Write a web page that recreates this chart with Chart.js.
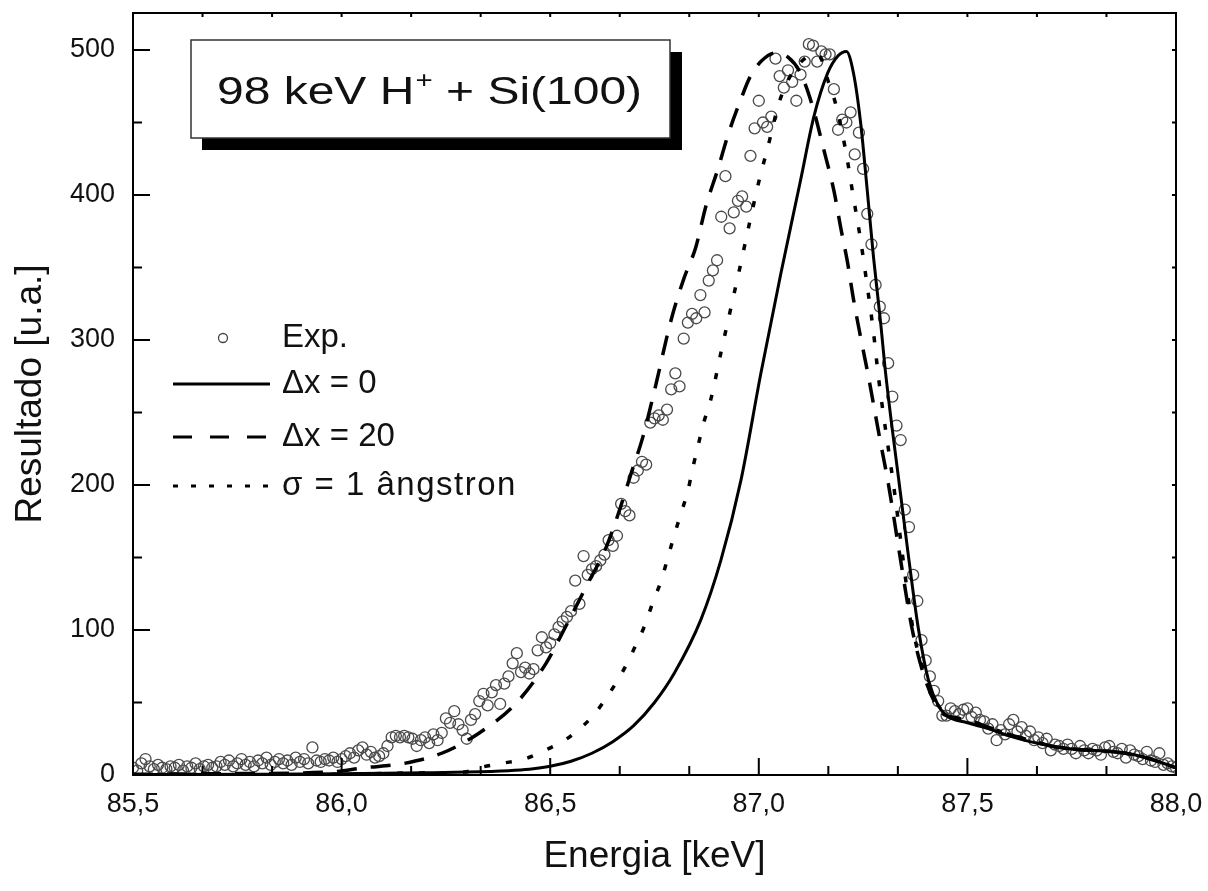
<!DOCTYPE html>
<html>
<head>
<meta charset="utf-8">
<script src="https://cdn.jsdelivr.net/npm/chart.js@4.4.1/dist/chart.umd.min.js"></script>
<style>
  html, body { margin: 0; padding: 0; background: #fff; }
  #grafico { display: block; }
</style>
</head>
<body>
<canvas id="grafico" width="1208" height="891"></canvas>
<script>
// espectro medido (energia em keV, resultado em u.a.)
const expX = [
  85.50,85.51,85.52,85.53,85.54,85.55,85.56,85.57,85.58,85.59,
  85.60,85.61,85.62,85.63,85.64,85.65,85.66,85.67,85.68,85.69,
  85.70,85.71,85.72,85.73,85.74,85.75,85.76,85.77,85.78,85.79,
  85.80,85.81,85.82,85.83,85.84,85.85,85.86,85.87,85.88,85.89,
  85.90,85.91,85.92,85.93,85.94,85.95,85.96,85.97,85.98,85.99,
  86.00,86.01,86.02,86.03,86.04,86.05,86.06,86.07,86.08,86.09,
  86.10,86.11,86.12,86.13,86.14,86.15,86.16,86.17,86.18,86.19,
  86.20,86.21,86.22,86.23,86.24,86.25,86.26,86.27,86.28,86.29,
  86.30,86.31,86.32,86.33,86.34,86.35,86.36,86.37,86.38,86.39,
  86.40,86.41,86.42,86.43,86.44,86.45,86.46,86.47,86.48,86.49,
  86.50,86.51,86.52,86.53,86.54,86.55,86.56,86.57,86.58,86.59,
  86.60,86.61,86.62,86.63,86.64,86.65,86.66,86.67,86.68,86.69,
  86.70,86.71,86.72,86.73,86.74,86.75,86.76,86.77,86.78,86.79,
  86.80,86.81,86.82,86.83,86.84,86.85,86.86,86.87,86.88,86.89,
  86.90,86.91,86.92,86.93,86.94,86.95,86.96,86.97,86.98,86.99,
  87.00,87.01,87.02,87.03,87.04,87.05,87.06,87.07,87.08,87.09,
  87.10,87.11,87.12,87.13,87.14,87.15,87.16,87.17,87.18,87.19,
  87.20,87.21,87.22,87.23,87.24,87.25,87.26,87.27,87.28,87.29,
  87.30,87.31,87.32,87.33,87.34,87.35,87.36,87.37,87.38,87.39,
  87.40,87.41,87.42,87.43,87.44,87.45,87.46,87.47,87.48,87.49,
  87.50,87.51,87.52,87.53,87.54,87.55,87.56,87.57,87.58,87.59,
  87.60,87.61,87.62,87.63,87.64,87.65,87.66,87.67,87.68,87.69,
  87.70,87.71,87.72,87.73,87.74,87.75,87.76,87.77,87.78,87.79,
  87.80,87.81,87.82,87.83,87.84,87.85,87.86,87.87,87.88,87.89,
  87.90,87.91,87.92,87.93,87.94,87.95,87.96,87.97,87.98,87.99,
  88.00
];
const expY = [
  5,3,8,11,6,4,7,5,4,6,
  5,7,3,6,5,8,4,6,7,5,
  6,9,7,10,6,8,11,7,9,6,
  10,8,12,7,9,11,8,10,7,12,
  9,11,8,19,10,9,11,10,12,9,
  11,13,15,12,17,19,14,16,12,13,
  15,20,26,27,26,27,26,25,20,24,
  26,22,28,24,29,39,36,44,35,31,
  25,38,42,51,56,48,57,62,49,63,
  68,77,84,71,74,70,73,86,95,88,
  91,97,102,106,109,113,134,118,151,138,
  142,144,148,152,162,158,165,187,182,179,
  205,210,216,214,243,246,248,245,252,266,
  277,268,301,312,318,315,331,319,341,348,
  355,385,413,377,388,396,399,392,427,446,
  465,450,447,454,494,482,474,486,478,465,
  483,492,504,503,492,499,497,497,473,445,
  452,450,457,428,443,418,387,366,338,323,
  315,284,261,241,231,183,171,138,120,93,
  79,68,58,51,41,41,46,44,42,45,
  46,40,43,38,37,32,35,24,31,28,
  35,38,30,33,27,30,24,26,22,25,
  17,21,20,18,21,18,15,20,17,15,
  18,17,14,19,20,16,15,18,12,17,
  14,13,11,16,10,9,15,7,8,6,
  5
];

// simulação Δx = 0
const dx0X = [85.5, 85.8, 86.0, 86.2, 86.3, 86.4, 86.45, 86.5, 86.55, 86.6, 86.65, 86.7, 86.75, 86.797,
  86.861, 86.909, 86.957, 87.005, 87.053, 87.1, 87.132, 87.165, 87.19, 87.21, 87.227, 87.244, 87.26,
  87.275, 87.292, 87.304, 87.337, 87.36, 87.383, 87.407, 87.43, 87.45, 87.5, 87.55, 87.6, 87.65, 87.7,
  87.75, 87.8, 87.85, 87.9, 87.95, 88.0];
const dx0Y = [0.3, 0.5, 0.8, 1.5, 2, 3, 4, 6, 9.5, 15, 23, 34, 50, 70,
  107, 148, 203, 277, 346, 410, 454, 484, 496, 499, 484, 450, 403,
  357, 312, 277, 200, 148, 100, 65, 48, 41, 36, 32, 27, 23, 20,
  18, 17, 16, 14, 10, 5];

// simulação Δx = 20
const dx20X = [85.5, 85.75, 85.97, 86.055, 86.15, 86.24, 86.33, 86.42, 86.49, 86.54, 86.59, 86.634, 86.663,
  86.694, 86.722, 86.749, 86.79, 86.82, 86.849, 86.873, 86.902, 86.928, 86.957, 86.98, 87.005, 87.04,
  87.07, 87.1, 87.129, 87.156, 87.18, 87.196, 87.213, 87.227, 87.244, 87.26, 87.29, 87.311, 87.34, 87.368,
  87.4, 87.435, 87.46, 87.5, 87.55, 87.6, 87.65, 87.7, 87.75, 87.8, 87.85, 87.9, 87.95, 88.0];
const dx20Y = [0.5, 1, 2, 5, 8, 15, 29, 50, 77, 104, 132, 157, 180,
  208, 233, 264, 314, 342, 364, 392, 418, 443, 466, 482, 492, 498,
  495, 484, 461, 431, 403, 378, 353, 328, 302, 279, 232, 200, 148, 100,
  65, 44, 40, 38, 33, 28, 24, 20, 18, 17, 16, 14, 10, 5];

// simulação σ = 1 ângstron
const sigX = [85.5, 86.0, 86.2, 86.294, 86.33, 86.383, 86.438, 86.495, 86.545, 86.603, 86.641, 86.675,
  86.701, 86.725, 86.746, 86.766, 86.782, 86.797, 86.813, 86.83, 86.842, 86.856, 86.868, 86.885, 86.909,
  86.933, 86.957, 86.981, 87.005, 87.02, 87.048, 87.07, 87.09, 87.11, 87.13, 87.145, 87.168, 87.184,
  87.208, 87.227, 87.244, 87.26, 87.275, 87.287, 87.323, 87.37, 87.4, 87.43, 87.46, 87.5,
  87.55, 87.6, 87.65, 87.7, 87.75, 87.8, 87.85, 87.9, 87.95, 88.0];
const sigY = [0, 0.5, 1.5, 2, 5, 8, 11, 18, 26, 41, 56, 72,
  87, 102, 119, 134, 150, 165, 180, 196, 212, 229, 243, 259, 291,
  322, 353, 385, 415, 431, 463, 479, 488, 494, 497, 496, 477, 463,
  431, 398, 369, 337, 305, 274, 200, 100, 68, 48, 41, 38,
  33, 28, 24, 20, 18, 17, 16, 14, 10, 5];

const xTicks = [85.5, 86.0, 86.5, 87.0, 87.5, 88.0];
const yTicks = [0, 100, 200, 300, 400, 500];
const nomes = ['Exp.', 'Δx = 0', 'Δx = 20', 'σ = 1 ângstron'];

const fonte = '"Liberation Sans", Arial, Helvetica, sans-serif';

function pares(xs, ys) {
  return xs.map((x, i) => ({ x: x, y: ys[i] }));
}

// moldura com marcas internas, caixa do título e legenda
const moldura = {
  id: 'moldura',
  afterDraw(chart) {
    const { ctx, chartArea: a, scales: { x, y } } = chart;
    ctx.save();
    ctx.strokeStyle = '#000';
    ctx.lineWidth = 2;
    ctx.strokeRect(a.left, a.top, a.right - a.left, a.bottom - a.top);

    ctx.beginPath();
    // eixo x: maiores a cada 0,5 e duas menores entre elas
    for (let i = 0; i <= 15; i++) {
      const px = x.getPixelForValue(xTicks[0] + i / 6);
      const len = i % 3 === 0 ? 17 : 9;
      ctx.moveTo(px, a.bottom);
      ctx.lineTo(px, a.bottom - len);
      ctx.moveTo(px, a.top);
      ctx.lineTo(px, a.top + 4);
    }
    // eixo y: maiores a cada 100, menores a cada 50
    for (let v = 0; v <= 500; v += 50) {
      const py = y.getPixelForValue(v);
      const len = v % 100 === 0 ? 17 : 9;
      ctx.moveTo(a.left, py);
      ctx.lineTo(a.left + len, py);
      ctx.moveTo(a.right, py);
      ctx.lineTo(a.right - 4, py);
    }
    ctx.stroke();

    // caixa do título com sombra
    ctx.fillStyle = '#000';
    ctx.fillRect(202, 52, 480, 98);
    ctx.fillStyle = '#fff';
    ctx.fillRect(191, 40, 479, 98);
    ctx.strokeStyle = '#333';
    ctx.lineWidth = 1.5;
    ctx.strokeRect(191, 40, 479, 98);

    ctx.save();
    ctx.translate(217, 104);
    ctx.scale(1.23, 1);
    ctx.fillStyle = '#111';
    ctx.textBaseline = 'alphabetic';
    ctx.textAlign = 'left';
    let tx = 0;
    ctx.font = '39px ' + fonte;
    ctx.fillText('98 keV H', tx, 0);
    tx += ctx.measureText('98 keV H').width + 1;
    ctx.font = '24px ' + fonte;
    ctx.fillText('+', tx, -16);
    tx += ctx.measureText('+').width;
    ctx.font = '39px ' + fonte;
    ctx.fillText(' + Si(100)', tx, 0);
    ctx.restore();

    // legenda
    const linhas = [338, 384, 437, 486];
    const traco = [[], [], [19, 18], [5, 13]];
    ctx.font = '33px ' + fonte;
    ctx.textBaseline = 'middle';
    ctx.textAlign = 'left';
    linhas.forEach((ly, i) => {
      if (i === 0) {
        ctx.beginPath();
        ctx.setLineDash([]);
        ctx.lineWidth = 1.3;
        ctx.strokeStyle = '#444';
        ctx.arc(223, ly, 4.5, 0, Math.PI * 2);
        ctx.stroke();
      } else {
        ctx.beginPath();
        ctx.setLineDash(traco[i]);
        ctx.lineWidth = 3.2;
        ctx.strokeStyle = '#000';
        ctx.moveTo(173, ly);
        ctx.lineTo(270, ly);
        ctx.stroke();
      }
      ctx.setLineDash([]);
      ctx.fillStyle = '#111';
      ctx.letterSpacing = i === 3 ? '1.5px' : '0px';
      ctx.fillText(nomes[i], 282, ly);
    });
    ctx.restore();
  }
};

new Chart(document.getElementById('grafico'), {
  type: 'scatter',
  data: {
    datasets: [
      {
        label: nomes[0],
        data: pares(expX, expY),
        showLine: false,
        pointStyle: 'circle',
        pointRadius: 5.5,
        pointBorderWidth: 1.3,
        borderColor: '#4a4a4a',
        backgroundColor: 'rgba(0,0,0,0)',
        order: 4
      },
      {
        label: nomes[1],
        data: pares(dx0X, dx0Y),
        showLine: true,
        pointRadius: 0,
        borderColor: '#000',
        borderWidth: 3,
        cubicInterpolationMode: 'monotone',
        order: 1
      },
      {
        label: nomes[2],
        data: pares(dx20X, dx20Y),
        showLine: true,
        pointRadius: 0,
        borderColor: '#000',
        borderWidth: 3.5,
        borderDash: [20, 14],
        cubicInterpolationMode: 'monotone',
        order: 2
      },
      {
        label: nomes[3],
        data: pares(sigX, sigY),
        showLine: true,
        pointRadius: 0,
        borderColor: '#000',
        borderWidth: 3.5,
        borderDash: [6, 16],
        cubicInterpolationMode: 'monotone',
        order: 3
      }
    ]
  },
  options: {
    responsive: false,
    devicePixelRatio: 1,
    animation: false,
    layout: { padding: { top: 13, right: 32, left: 0, bottom: 0 } },
    plugins: {
      legend: { display: false },
      tooltip: { enabled: false }
    },
    scales: {
      x: {
        type: 'linear',
        min: xTicks[0],
        max: xTicks[xTicks.length - 1],
        afterFit: (s) => { s.height = 116; s.paddingLeft = 0; s.paddingRight = 0; },
        grid: { display: false, drawTicks: false },
        border: { display: false },
        ticks: {
          stepSize: 0.5,
          padding: 13,
          color: '#111',
          font: { family: fonte, size: 27 },
          maxRotation: 0,
          callback: (v) => xTicks.includes(v) ? v.toFixed(1).replace('.', ',') : ''
        },
        title: {
          display: true,
          text: 'Energia [keV]',
          color: '#111',
          font: { family: fonte, size: 37 },
          padding: { top: 0, bottom: 12 }
        }
      },
      y: {
        type: 'linear',
        min: 0,
        max: 525.5,
        afterFit: (s) => { s.width = 133; s.paddingTop = 0; s.paddingBottom = 0; },
        grid: { display: false, drawTicks: false },
        border: { display: false },
        ticks: {
          stepSize: 100,
          includeBounds: false,
          padding: 18,
          color: '#111',
          font: { family: fonte, size: 27 },
          callback: (v) => yTicks.includes(v) ? String(v) : ''
        },
        title: {
          display: true,
          text: 'Resultado [u.a.]',
          color: '#111',
          font: { family: fonte, size: 37 },
          padding: { top: 9, bottom: 0 }
        }
      }
    }
  },
  plugins: [moldura]
});
</script>
</body>
</html>
